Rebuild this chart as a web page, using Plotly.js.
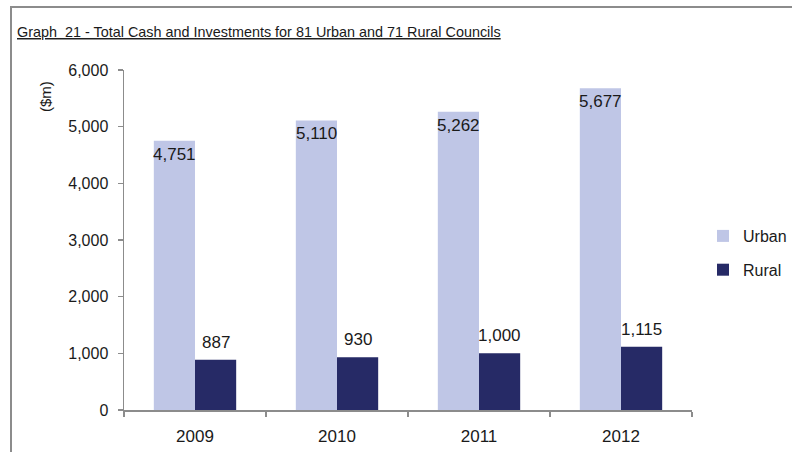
<!DOCTYPE html>
<html>
<head>
<meta charset="utf-8">
<script src="https://cdn.plot.ly/plotly-3.0.1.min.js"></script>
<style>
html,body{margin:0;padding:0;background:#fff;}
#frame{position:absolute;left:10px;top:6px;width:800px;height:460px;border:2px solid #8c8c8c;box-sizing:border-box;pointer-events:none;z-index:5;}
#chart{position:absolute;left:0;top:0;width:792px;height:452px;}
</style>
</head>
<body>
<div id="chart"></div>
<div id="frame"></div>
<script>
var years = ["2009", "2010", "2011", "2012"];
var urban = [4751, 5110, 5262, 5677];
var rural = [887, 930, 1000, 1115];
var yTicks = [0, 1000, 2000, 3000, 4000, 5000, 6000];

var fmt = function (v) { return v.toLocaleString("en-US"); };
var font = "Liberation Sans, Arial, sans-serif";

var traces = [
  {
    type: "bar", name: "Urban", x: years, y: urban,
    marker: { color: "#bfc6e6" },
    legendgroup: "u", hoverinfo: "y"
  },
  {
    type: "bar", name: "Rural", x: years, y: rural,
    marker: { color: "#262a66" },
    legendgroup: "r", hoverinfo: "y"
  }
];

// half of one bar's width, in px: (plot width / categories) * (1 - bargap) / 2 bars / 2
var halfBar = (568 / 4) * (1 - 0.42) / 4;
var labelFont = { family: font, size: 17, color: "#1a1a1a" };
var annotations = [];
years.forEach(function (yr, i) {
  // category axis: annotation x given as the category's index
  annotations.push({
    x: i, y: urban[i], xref: "x", yref: "y", text: fmt(urban[i]),
    showarrow: false, xanchor: "center", yanchor: "top",
    xshift: -halfBar, yshift: -2, font: labelFont
  });
  annotations.push({
    x: i, y: rural[i], xref: "x", yref: "y", text: fmt(rural[i]),
    showarrow: false, xanchor: "center", yanchor: "bottom",
    xshift: halfBar, yshift: 6, font: labelFont
  });
});
annotations.push({
  text: "($m)", textangle: -90, showarrow: false,
  xref: "paper", yref: "paper",
  x: (45 - 124) / 568, y: (410 - 97) / 340,
  xanchor: "center", yanchor: "middle",
  font: { family: font, size: 15, color: "#1a1a1a" }
});

var layout = {
  width: 792, height: 452,
  margin: { l: 124, r: 100, t: 70, b: 42 },
  paper_bgcolor: "#fff", plot_bgcolor: "#fff",
  font: { family: font, size: 16, color: "#1a1a1a" },
  barmode: "group", bargap: 0.42, bargroupgap: 0,
  title: {
    text: "<u>Graph  21 - Total Cash and Investments for 81 Urban and 71 Rural Councils</u>",
    font: { family: font, size: 14.4, color: "#1a1a1a" },
    xref: "container", yref: "container",
    x: 17 / 792, xanchor: "left", y: 1 - 32 / 452, yanchor: "middle"
  },
  xaxis: {
    type: "category", categoryorder: "array", categoryarray: years,
    range: [-0.5, years.length - 0.5], tickson: "boundaries",
    showline: true, linecolor: "#8c8c8c", linewidth: 1.5,
    ticks: "outside", ticklen: 5, tickcolor: "#8c8c8c", tickwidth: 1.5,
    showgrid: false, zeroline: false, ticklabelstandoff: 10,
    tickfont: { family: font, size: 17, color: "#1a1a1a" }
  },
  yaxis: {
    range: [0, 6000], tickvals: yTicks, ticktext: yTicks.map(fmt),
    showline: true, linecolor: "#8c8c8c", linewidth: 1.5,
    ticks: "outside", ticklen: 5, tickcolor: "#8c8c8c", tickwidth: 1.5,
    showgrid: false, zeroline: false, ticklabelstandoff: 6,
    tickfont: { family: font, size: 16, color: "#1a1a1a" }
  },
  legend: {
    xref: "container", yref: "container",
    x: 703 / 792, xanchor: "left", y: 1 - 253 / 452, yanchor: "middle",
    font: { family: font, size: 16, color: "#1a1a1a" },
    traceorder: "grouped", tracegroupgap: 10, itemwidth: 30,
    bgcolor: "rgba(0,0,0,0)"
  },
  annotations: annotations
};

Plotly.newPlot("chart", traces, layout, { displayModeBar: false, staticPlot: true });
</script>
</body>
</html>
